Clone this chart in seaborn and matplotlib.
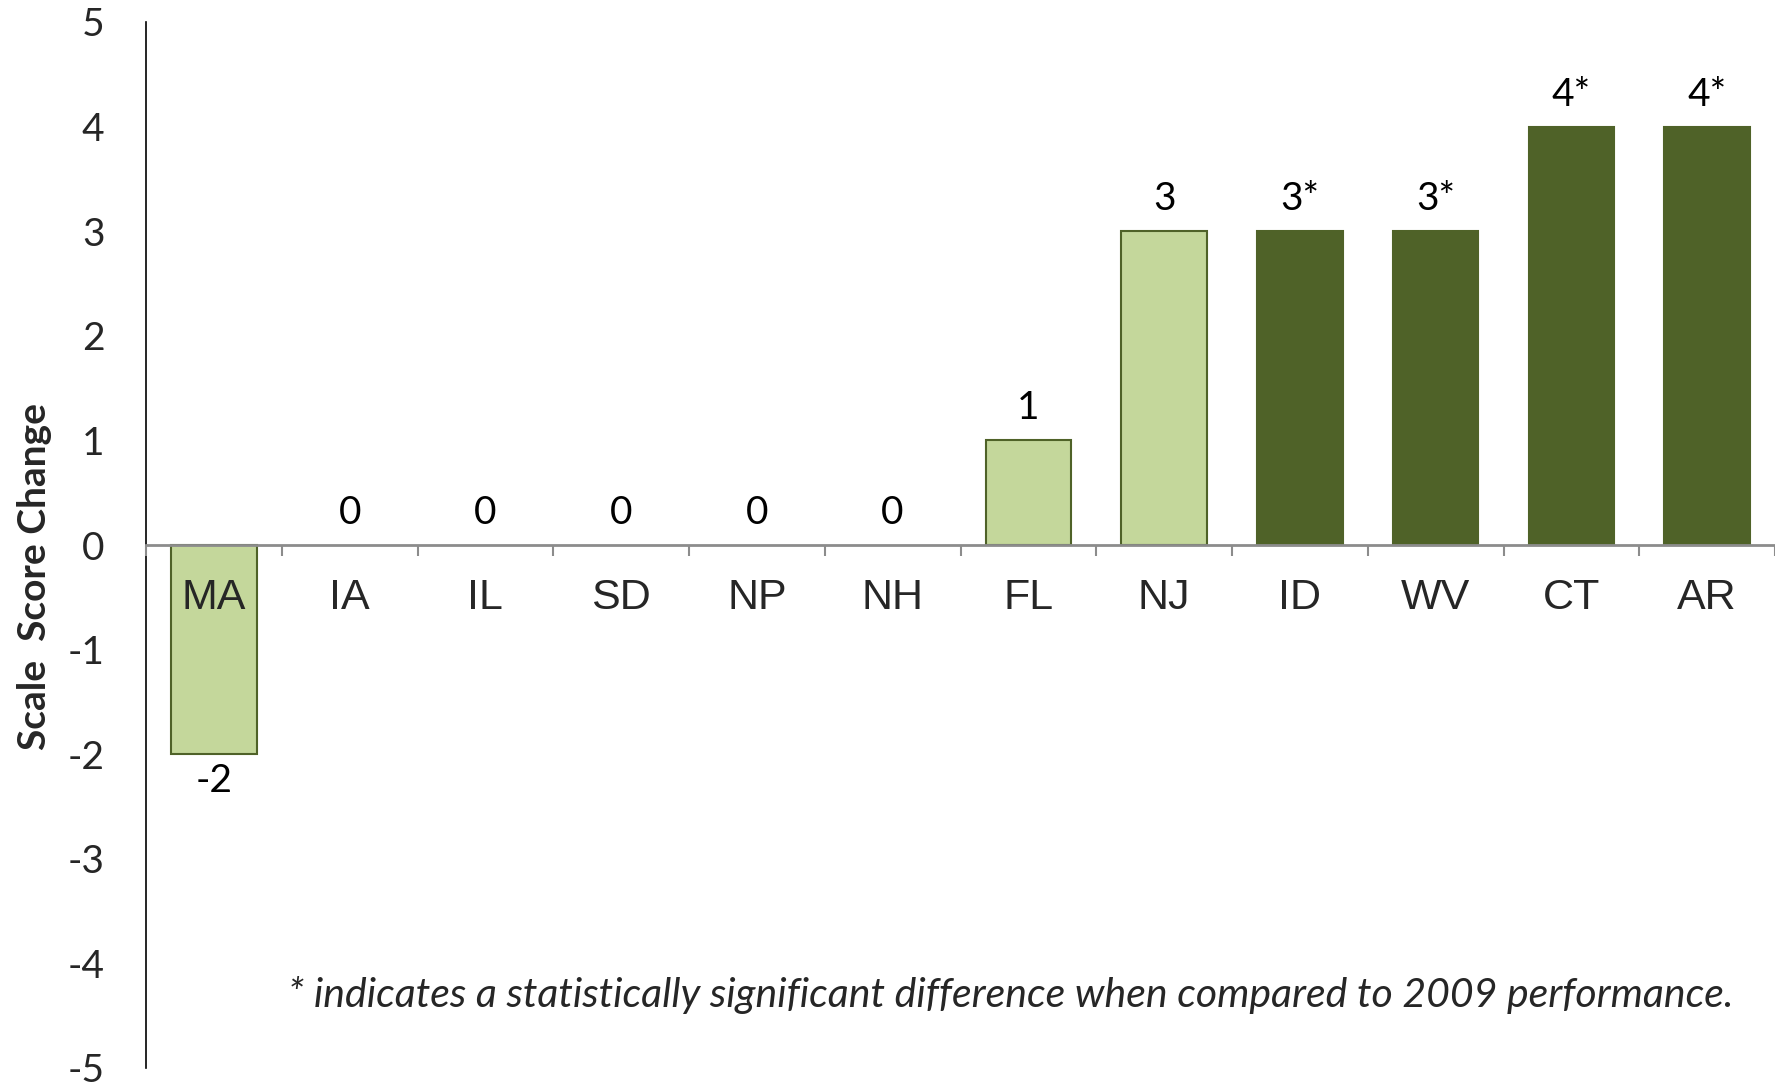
import matplotlib

matplotlib.use("Agg")
import matplotlib.pyplot as plt
import numpy as np
import pandas as pd
import seaborn as sns

# chart values
states = ["MA", "IA", "IL", "SD", "NP", "NH", "FL", "NJ", "ID", "WV", "CT", "AR"]
changes = [-2, 0, 0, 0, 0, 0, 1, 3, 3, 3, 4, 4]
significant = [False, False, False, False, False, False, False, False, True, True, True, True]
yticks = list(range(-5, 6))
footnote = "* indicates a statistically significant difference when compared to 2009 performance."

LIGHT = "#C4D79B"
DARK = "#4F6228"
GRAY = "#8C8C8C"

df = pd.DataFrame({
    "state": states,
    "change": changes,
    "sig": ["yes" if s else "no" for s in significant],
})

sns.set_theme(style="white")
plt.rcParams["font.family"] = ["Lato", "DejaVu Sans"]

fig = plt.figure(figsize=(17.75, 10.85), dpi=100)
ax = fig.add_axes([146 / 1775, 17 / 1085, 1 - 146 / 1775, 1 - 39 / 1085])

sns.barplot(data=df, x="state", y="change", hue="sig", order=states,
            hue_order=["no", "yes"], palette={"no": LIGHT, "yes": DARK},
            dodge=False, width=0.63, legend=False, saturation=1, ax=ax)
ax.set_axisbelow(False)  # category labels sit over the MA bar

for p in ax.patches:
    if p.get_height() == 0:
        p.set_linewidth(0)
    else:
        p.set_edgecolor(DARK)
        p.set_linewidth(1.5)

# value labels, asterisk for significant change
for i, (v, s) in enumerate(zip(changes, significant)):
    lab = f"{v}*" if s else f"{v}"
    off = 23 if v >= 0 else -19
    ax.annotate(lab, xy=(i, v), xytext=(0, off), textcoords="offset points",
                ha="center", va="center", fontsize=28, color="black")

ax.set_ylim(-5, 5)
ax.set_xlim(-0.5, len(states) - 0.5)
ax.set_yticks(yticks)
ax.set_yticklabels([str(t) for t in yticks], fontsize=28)
ax.tick_params(axis="y", length=0, pad=30)

ax.spines["top"].set_visible(False)
ax.spines["right"].set_visible(False)
ax.spines["left"].set_color("black")
ax.spines["left"].set_linewidth(1.2)
ax.spines["bottom"].set_position(("data", 0))
ax.spines["bottom"].set_color(GRAY)
ax.spines["bottom"].set_linewidth(2)

ax.set_xticks(range(len(states)))
ax.set_xticklabels(states, fontsize=31, family=["Liberation Sans", "DejaVu Sans"])
ax.set_xticks(np.arange(-0.5, len(states), 1), minor=True)
ax.tick_params(axis="x", which="major", length=0, pad=24)
ax.tick_params(axis="x", which="minor", bottom=True, length=8, width=1.5, color=GRAY)

ax.set_xlabel("")
ax.set_ylabel("Scale  Score Change", fontsize=28, fontweight="bold")
ax.yaxis.set_label_coords(-0.058, 0.47)

fig.text(1734 / 1775, 1 - 995 / 1085, footnote, ha="right", va="center",
         fontsize=29.5, style="italic")

fig.savefig("out.png", dpi=100)
